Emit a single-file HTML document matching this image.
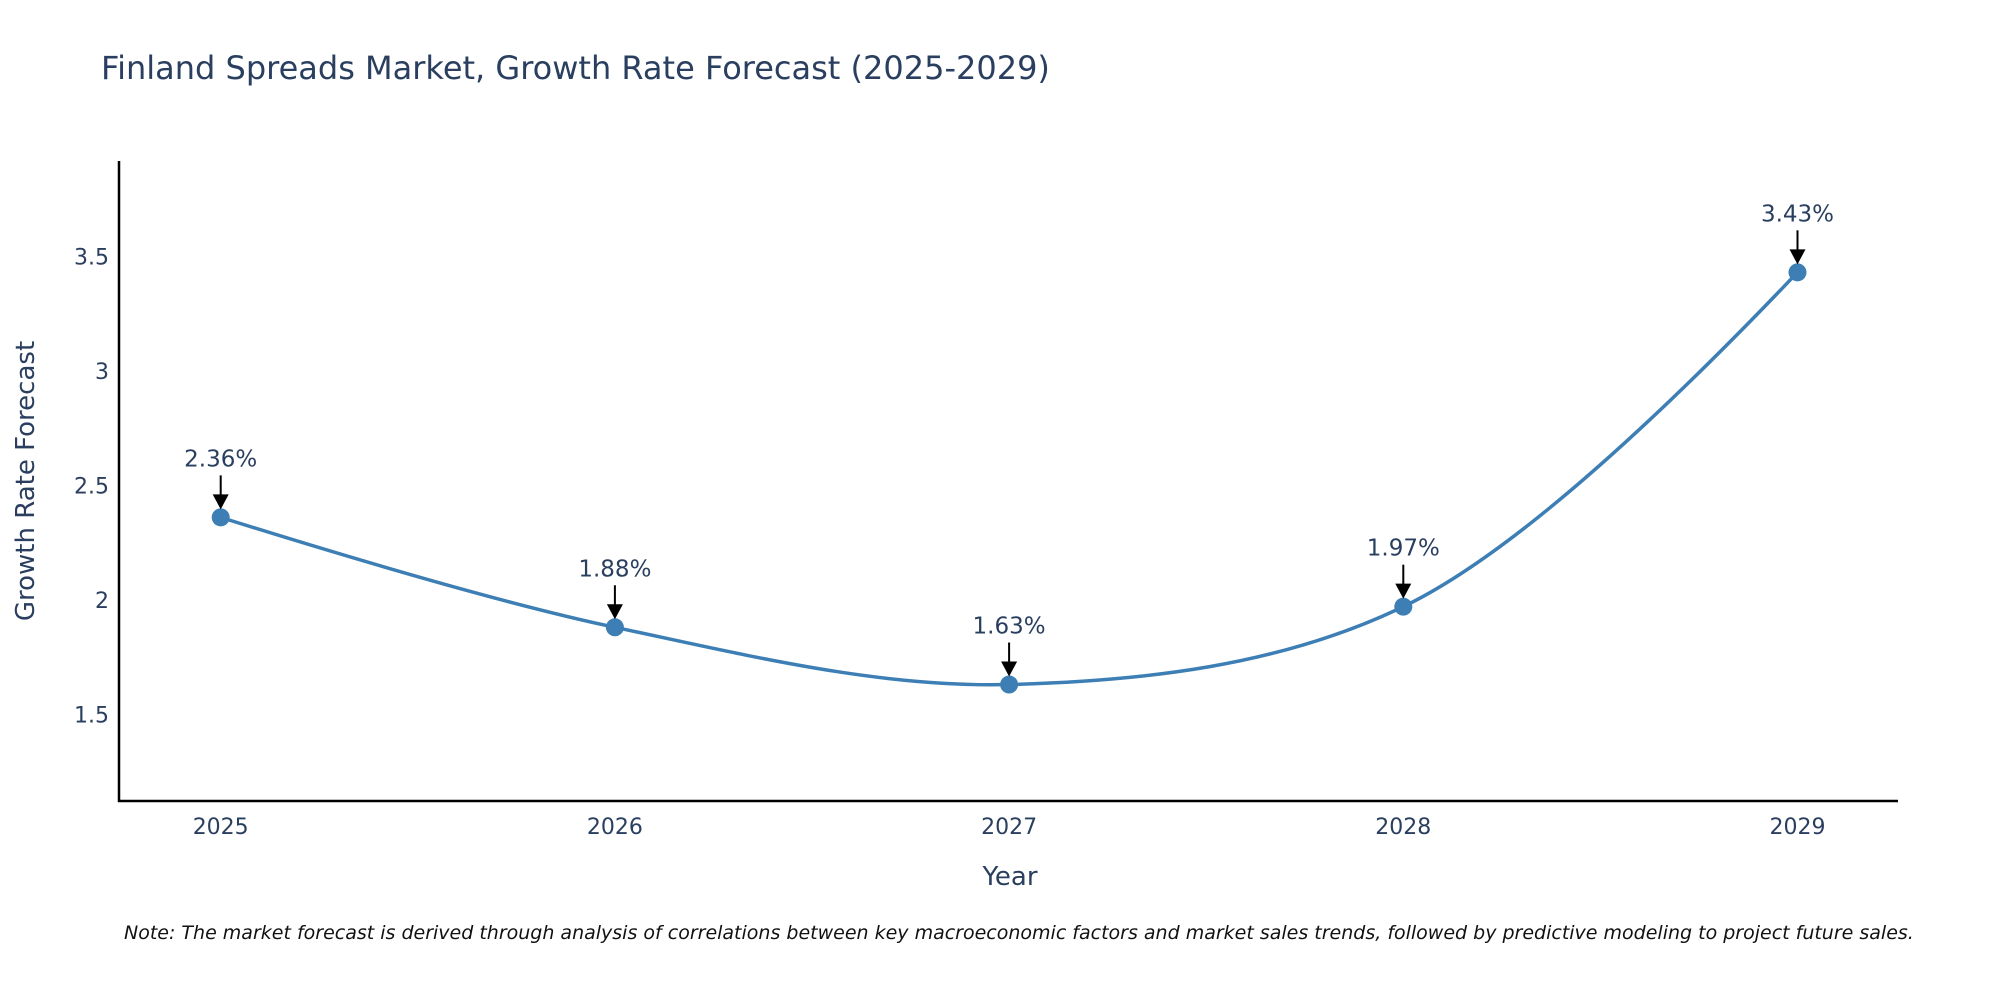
<!DOCTYPE html>
<html>
<head>
<meta charset="utf-8">
<style>
  html,body{margin:0;padding:0;background:#fff;}
  body{width:2000px;height:1000px;overflow:hidden;font-family:"DejaVu Sans","Liberation Sans",sans-serif;}
  svg text{font-family:"DejaVu Sans","Liberation Sans",sans-serif;}
</style>
</head>
<body>
<svg id="chart" width="2000" height="1000" viewBox="0 0 2000 1000" xmlns="http://www.w3.org/2000/svg">
  <text x="101" y="79" font-size="32" fill="#2a3f5f">Finland Spreads Market, Growth Rate Forecast (2025-2029)</text>
  <g id="yticks"></g>
  <g id="xticks"></g>
  <line x1="119" y1="161" x2="119" y2="802" stroke="#000" stroke-width="2.5"/>
  <line x1="118" y1="801" x2="1898" y2="801" stroke="#000" stroke-width="2.5"/>
  <text transform="translate(34,481) rotate(-90)" text-anchor="middle" font-size="26" fill="#2a3f5f">Growth Rate Forecast</text>
  <text x="1010" y="885" text-anchor="middle" font-size="26" fill="#2a3f5f">Year</text>
  <g id="series"></g>
  <g id="annotations"></g>
  <text x="124" y="939" font-size="19" font-style="italic" fill="#111">Note: The market forecast is derived through analysis of correlations between key macroeconomic factors and market sales trends, followed by predictive modeling to project future sales.</text>
</svg>
<script>
const years = [2025, 2026, 2027, 2028, 2029];
const growthValues = [2.36, 1.88, 1.63, 1.97, 3.43];
const valueLabels = ["2.36%", "1.88%", "1.63%", "1.97%", "3.43%"];
const yTickValues = [1.5, 2, 2.5, 3, 3.5];
const yTickLabels = ["1.5", "2", "2.5", "3", "3.5"];

const NS = "http://www.w3.org/2000/svg";
const xScale = y => 220.7 + (y - 2025) * 394.2;
const yScale = v => 714.3 - (v - 1.5) * 229;

function mk(tag, attrs, parent){
  const e = document.createElementNS(NS, tag);
  for (const k in attrs) e.setAttribute(k, attrs[k]);
  parent.appendChild(e);
  return e;
}

const yt = document.getElementById('yticks');
yTickValues.forEach((v,i)=>{
  const t = mk('text',{x:109,y:yScale(v)+8,'text-anchor':'end','font-size':'22',fill:'#2a3f5f'},yt);
  
  
  t.textContent = yTickLabels[i];
});
const xt = document.getElementById('xticks');
years.forEach(y=>{
  const t = mk('text',{x:xScale(y),y:834,'text-anchor':'middle','font-size':'22',fill:'#2a3f5f'},xt);
  
  
  t.textContent = String(y);
});

// plotly-style spline
const pts = years.map((y,i)=>[xScale(y), yScale(growthValues[i])]);
function tangent(a, b, c, sm){
  const d1x=a[0]-b[0], d1y=a[1]-b[1], d2x=c[0]-b[0], d2y=c[1]-b[1];
  const d1a=Math.pow(d1x*d1x+d1y*d1y,0.25), d2a=Math.pow(d2x*d2x+d2y*d2y,0.25);
  const nx=(d2a*d2a*d1x-d1a*d1a*d2x)*sm, ny=(d2a*d2a*d1y-d1a*d1a*d2y)*sm;
  const den1=3*d2a*(d1a+d2a), den2=3*d1a*(d1a+d2a);
  return [[b[0]+nx/den1, b[1]+ny/den1],[b[0]-nx/den2, b[1]-ny/den2]];
}
const tans=[];
for(let i=1;i<pts.length-1;i++) tans.push(tangent(pts[i-1],pts[i],pts[i+1],1));
let d = `M${pts[0]} Q${tans[0][0]} ${pts[1]}`;
for(let i=2;i<pts.length-1;i++) d += ` C${tans[i-2][1]} ${tans[i-1][0]} ${pts[i]}`;
d += ` Q${tans[tans.length-1][1]} ${pts[pts.length-1]}`;

const ser = document.getElementById('series');
const line = mk('path',{d:d,fill:'none',stroke:'#3d7fb5','stroke-width':'3.5'},ser);


pts.forEach(p=>{
  const c = mk('circle',{cx:p[0],cy:p[1],r:9,fill:'#3d7fb5'},ser);
  
  
});

const ann = document.getElementById('annotations');
pts.forEach((p,i)=>{
  const a = mk('line',{x1:p[0],y1:p[1]-42,x2:p[0],y2:p[1]-22,stroke:'#000','stroke-width':'2'},ann);
  
  
  const h = mk('path',{d:`M${p[0]-8},${p[1]-23} L${p[0]+8},${p[1]-23} L${p[0]},${p[1]-8} Z`,fill:'#000'},ann);
  
  
  const t = mk('text',{x:p[0],y:p[1]-51,'text-anchor':'middle','font-size':'23',fill:'#2a3f5f'},ann);
  
  
  t.textContent = valueLabels[i];
});
</script>
</body>
</html>
